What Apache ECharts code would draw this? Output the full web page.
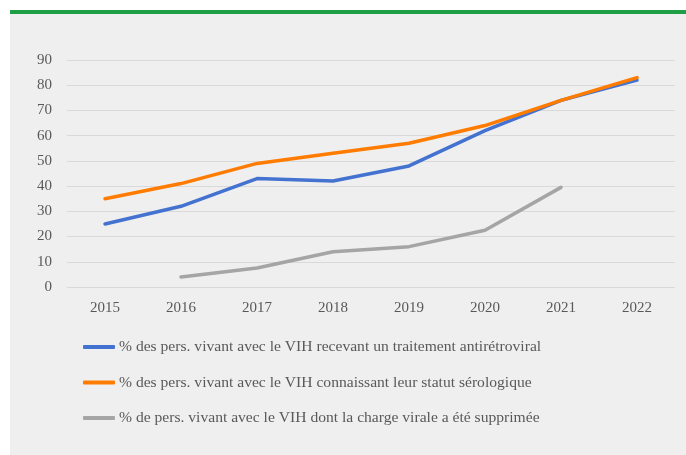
<!DOCTYPE html>
<html>
<head>
<meta charset="utf-8">
<script src="https://cdn.jsdelivr.net/npm/echarts@6/dist/echarts.min.js"></script>
<style>
html,body{margin:0;padding:0;background:#ffffff;width:686px;height:455px;overflow:hidden;}
#panel{position:absolute;left:10px;top:10px;width:676px;height:445px;background:#efefef;border-top:4px solid #1e9f45;box-sizing:border-box;}
#chart{position:absolute;left:0;top:0;width:686px;height:455px;}
</style>
</head>
<body>
<div id="panel"></div>
<div id="chart"></div>
<script>
const years = ['2015','2016','2017','2018','2019','2020','2021','2022'];
const yTicks = [0,10,20,30,40,50,60,70,80,90];
const seriesNames = [
  '% des pers. vivant avec le VIH recevant un traitement antirétroviral',
  '% des pers. vivant avec le VIH connaissant leur statut sérologique',
  '% de pers. vivant avec le VIH dont la charge virale a été supprimée'
];
const traitement = [25, 32, 43, 42, 48, 62, 74, 82];
const connaissant = [35, 41, 49, 53, 57, 64, 74, 83];
const supprimee = [null, 4, 7.5, 14, 16, 22.5, 39.5, null];

const colors = ['#4472d0', '#ff7c00', '#a5a5a5'];
const fontFam = '"Liberation Serif", "DejaVu Serif", serif';

const chart = echarts.init(document.getElementById('chart'), null, {renderer:'canvas'});
function mk(name, data, color, z){
  return {
    name: name, type: 'line', data: data, symbol: 'none', smooth: false,
    connectNulls: false, z: z,
    lineStyle: {color: color, width: 3.5, cap: 'round', join: 'round'},
    itemStyle: {color: color}
  };
}
chart.setOption({
  backgroundColor: 'transparent',
  animation: false,
  textStyle: {fontFamily: fontFam},
  grid: {left: 67, right: 11, top: 60, bottom: 168},
  xAxis: {
    type: 'category', data: years, boundaryGap: true,
    axisLine: {show: false}, axisTick: {show: false},
    axisLabel: {color: '#595959', fontSize: 15, fontFamily: fontFam, margin: 14}
  },
  yAxis: {
    type: 'value', min: yTicks[0], max: yTicks[yTicks.length-1], interval: 10,
    axisLine: {show: false}, axisTick: {show: false},
    axisLabel: {color: '#595959', fontSize: 15, fontFamily: fontFam, margin: 15},
    splitLine: {lineStyle: {color: '#d9d9d9', width: 1}}
  },
  legend: {
    orient: 'vertical', left: 78, top: 334, itemGap: 19.5,
    itemWidth: 32, itemHeight: 4, icon: 'roundRect',
    textStyle: {color: '#595959', fontSize: 15.6, fontFamily: fontFam, padding: [0,0,0,-1]},
    data: seriesNames
  },
  series: [
    mk(seriesNames[0], traitement, colors[0], 2),
    mk(seriesNames[1], connaissant, colors[1], 3),
    mk(seriesNames[2], supprimee, colors[2], 4)
  ]
});
</script>
</body>
</html>
